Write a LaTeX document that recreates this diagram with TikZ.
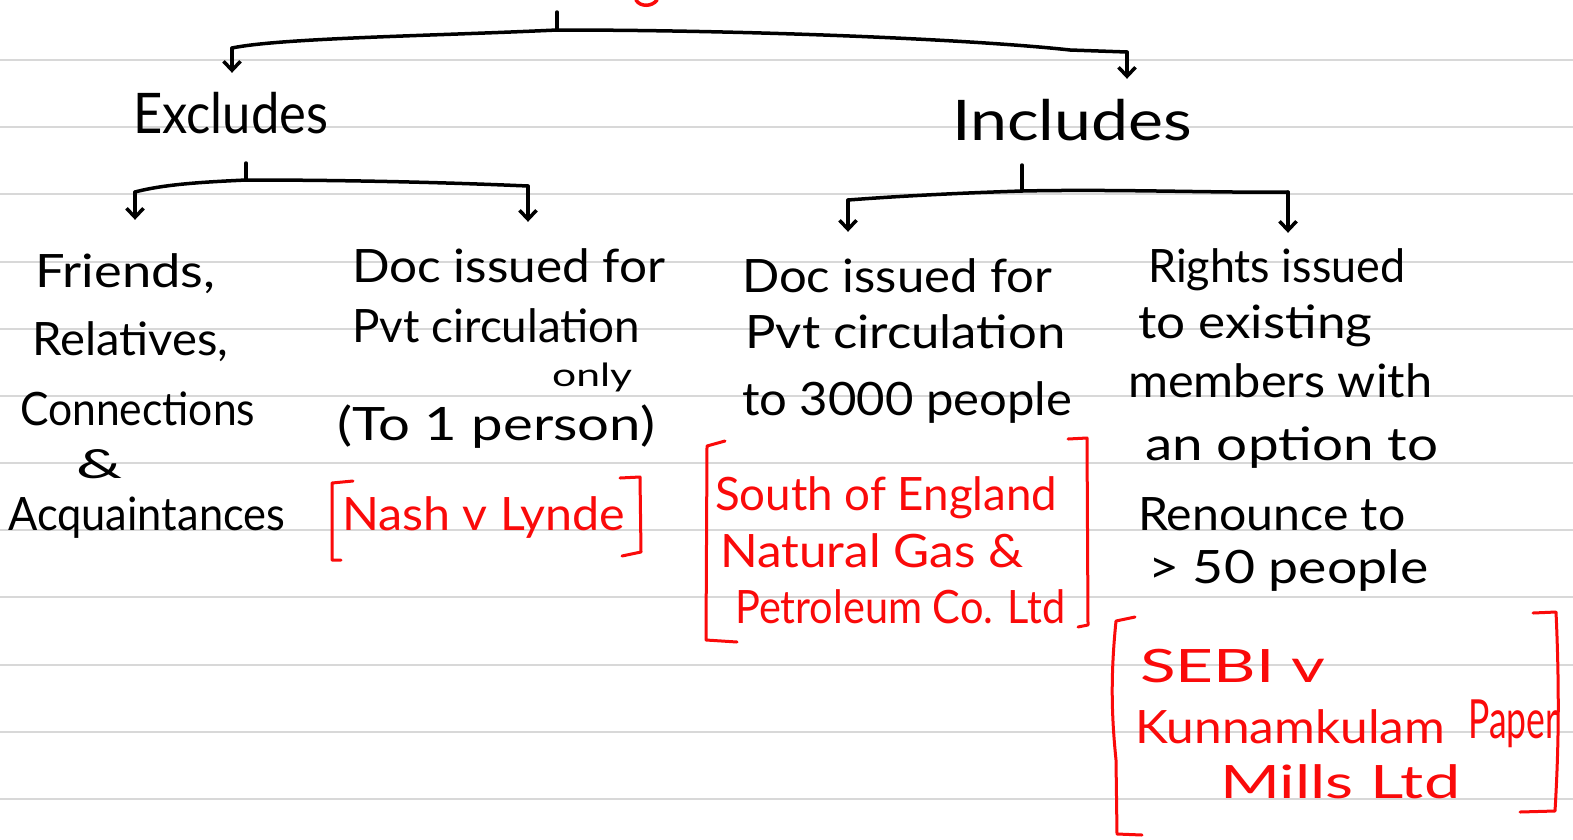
\documentclass[tikz,border=0pt]{standalone}
\usepackage{fontspec}
\setmainfont{Lato}
\usepackage{graphicx}
\usetikzlibrary{arrows.meta}
\definecolor{inkred}{RGB}{250,10,10}
\definecolor{rulegray}{RGB}{216,216,216}
% stretch a line of text to a given width, keeping its height
\newcommand{\fitw}[2]{\resizebox{#1}{\height}{#2}}
\tikzset{
  ln/.style={inner sep=0pt, anchor=base west, font=\fontsize{46}{50}\selectfont, text height=34pt, text depth=10pt},
  small/.style={inner sep=0pt, anchor=base west, font=\fontsize{32}{34}\selectfont},
  redln/.style={ln, text=inkred},
  head/.style={inner sep=0pt, anchor=base west, font=\fontsize{56}{60}\selectfont, text height=40pt, text depth=12pt},
  wire/.style={line width=3.5pt, line cap=round, line join=round},
  arr/.style={wire, -{Straight Barb[length=9pt,width=17pt]}},
  brk/.style={draw=inkred, line width=3pt, line cap=round, line join=round},
  ruling/.style={draw=rulegray, line width=2pt}
}
\begin{document}
\begin{tikzpicture}[x=1pt,y=-1pt]
\useasboundingbox (0,0) rectangle (1573,839);
\fill[white] (0,0) rectangle (1573,839);

% ruled notebook lines
\foreach \yy in {60,127,194,262,329,396,463,530,597,665,732,799}
  \draw[ruling] (0,\yy) -- (1573,\yy);

% red stroke at the top edge
\draw[inkred, line width=3.5pt, line cap=round] (636,0) .. controls (640,7) and (652,7) .. (657,0);

% headings
\node[head] (excl) at (133,133) {\fitw{195pt}{Excludes}};
\node[head] (incl) at (952,140) {\fitw{240pt}{Includes}};

% excluded: friends, relatives ...
\node[ln] (fr1) at (35,287) {\fitw{180pt}{Friends,}};
\node[ln] (fr2) at (32,355) {\fitw{196pt}{Relatives,}};
\node[ln] (fr3) at (20,425) {\fitw{235pt}{Connections}};
\node[small, font=\fontsize{40}{42}\selectfont] (fr4) at (76,478) {\fitw{46pt}{\&}};
\node[ln] (fr5) at (8,530) {\fitw{277pt}{Acquaintances}};

% excluded: private circulation to one person
\node[ln] (pa1) at (352,282) {\fitw{313pt}{Doc issued for}};
\node[ln] (pa2) at (352,342) {\fitw{288pt}{Pvt circulation}};
\node[small] (pa3) at (552,386) {\fitw{80pt}{only}};
\node[ln] (pa4) at (337,440) {\fitw{318pt}{(To 1 person)}};
\node[redln] (pa5) at (342,530) {\fitw{283pt}{Nash v Lynde}};
\draw[brk] (353,481) -- (332,483) -- (332,560) -- (341,560);
\draw[brk] (620,478) -- (640,477) -- (641,552) -- (622,556);

% included: circulation to 3000 people
\node[ln] (pb1) at (742,292) {\fitw{310pt}{Doc issued for}};
\node[ln] (pb2) at (745,348) {\fitw{320pt}{Pvt circulation}};
\node[ln] (pb3) at (742,415) {\fitw{330pt}{to 3000 people}};
\node[redln] (pb4) at (715,510) {\fitw{342pt}{South of England}};
\node[redln] (pb5) at (720,567) {\fitw{303pt}{Natural Gas \&}};
\node[redln] (pb6) at (735,623) {\fitw{330pt}{Petroleum Co. Ltd}};
\draw[brk] (725,441) -- (707,446) -- (706,640) -- (737,642);
\draw[brk] (1068,439) -- (1087,438) -- (1088,625) -- (1078,627);

% included: rights issue
\node[ln] (rt1) at (1148,282) {\fitw{257pt}{Rights issued}};
\node[ln] (rt2) at (1138,338) {\fitw{234pt}{to existing}};
\node[ln] (rt3) at (1128,397) {\fitw{304pt}{members with}};
\node[ln] (rt4) at (1145,460) {\fitw{293pt}{an option to}};
\node[ln] (rt5) at (1138,530) {\fitw{267pt}{Renounce to}};
\node[ln] (rt6) at (1148,583) {\fitw{280pt}{> 50 people}};
\node[redln] (rt7) at (1140,682) {\fitw{185pt}{SEBI v}};
\node[redln] (rt8) at (1135,743) {\fitw{310pt}{Kunnamkulam}};
\node[redln, font=\fontsize{54}{56}\selectfont, text height=40pt] (rt9) at (1468,738) {\fitw{90pt}{Paper}};
\node[redln] (rt10) at (1220,798) {\fitw{240pt}{Mills Ltd}};
\draw[brk] (1135,617) -- (1116,621) .. controls (1110,680) and (1112,720) .. (1116,760) -- (1117,834) -- (1142,835);
\draw[brk] (1533,613) -- (1556,612) .. controls (1560,700) and (1558,760) .. (1555,811) -- (1520,812);

% tree: top level
\coordinate (root) at (557,12);
\coordinate (rootj) at (557,30);
\coordinate (lc) at (232,48);
\coordinate (rc) at (1127,52);
\draw[wire] (root) -- (rootj);
\draw[wire] (lc) .. controls (280,38) and (430,36) .. (rootj)
  .. controls (760,30) and (980,40) .. (1070,50) -- (rc);
\draw[arr, shorten >=20pt] (lc) -- (lc |- excl.north);
\draw[arr, shorten >=21pt] (rc) -- (rc |- incl.north);

% tree: below "Excludes"
\coordinate (ej) at (246,180);
\coordinate (el) at (135,192);
\coordinate (er) at (528,186);
\draw[wire] (246,163) -- (ej);
\draw[wire] (el) .. controls (165,184) and (205,182) .. (ej)
  .. controls (360,180) and (460,183) .. (er);
\draw[arr, shorten >=33pt] (el) -- (el |- fr1.north);
\draw[arr, shorten >=26pt] (er) -- (er |- pa1.north);

% tree: below "Includes"
\coordinate (ij) at (1022,191);
\coordinate (il) at (848,200);
\coordinate (ir) at (1288,192);
\draw[wire] (1022,165) -- (ij);
\draw[wire] (il) .. controls (900,196) and (960,193) .. (ij)
  .. controls (1120,189) and (1220,193) .. (ir);
\draw[arr, shorten >=26pt] (il) -- (il |- pb1.north);
\draw[arr, shorten >=15pt] (ir) -- (ir |- rt1.north);
\end{tikzpicture}
\end{document}
